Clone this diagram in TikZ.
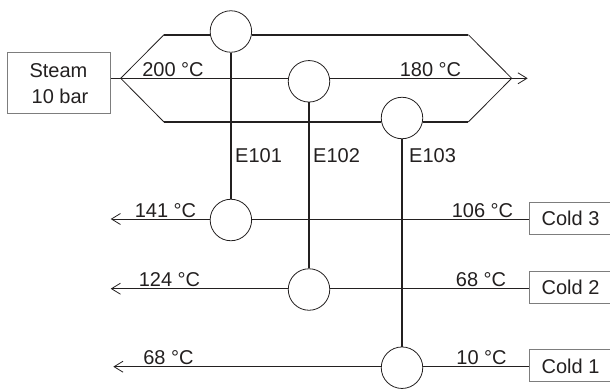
\documentclass[tikz,border=0pt]{standalone}
\usepackage{fontspec}
\setmainfont{Liberation Sans}
\usetikzlibrary{arrows.meta}
\definecolor{tc}{RGB}{35, 32, 32}
\definecolor{bc}{RGB}{125, 125, 125}
\tikzset{
  exch/.style={circle, minimum size=41.5pt, inner sep=0pt, line width=0.8pt, draw=tc},
  unit/.style={rectangle, inner sep=0pt, line width=0.9pt, draw=bc},
  hx/.style={line width=0.8pt, color=tc},
  link/.style={line width=1.9pt, color=tc},
  flow/.style={line width=0.8pt, color=tc, -{Straight Barb[length=9pt,width=11pt,line width=0.8pt]}},
  lab/.style={anchor=base, inner sep=0pt, text=tc, font=\fontsize{20pt}{24pt}\selectfont}
}

\begin{document}
\begin{tikzpicture}
\useasboundingbox (0pt, 0pt) rectangle (610pt, -388pt);
% units
\node (steam) [unit, minimum width=102.6pt, minimum height=61pt] at (59.0pt, -82.5pt) {};
\node (cold3) [unit, minimum width=90pt, minimum height=32.3pt] at (574.0pt, -218.2pt) {};
\node (cold2) [unit, minimum width=90pt, minimum height=32.3pt] at (574.0pt, -287.2pt) {};
\node (cold1) [unit, minimum width=90pt, minimum height=32.3pt] at (574.0pt, -365.2pt) {};
% exchangers
\node (e1a) [exch] at (230.9pt, -31.5pt) {};
\node (e2a) [exch] at (309.0pt, -81.3pt) {};
\node (e3a) [exch] at (402.0pt, -118.0pt) {};
\node (e1b) [exch] at (230.9pt, -220.0pt) {};
\node (e2b) [exch] at (309.0pt, -289.5pt) {};
\node (e3b) [exch] at (402.0pt, -367.7pt) {};
% hot side
\coordinate (split) at (120.7pt, -78.3pt);
\coordinate (merge) at (511.7pt, -78.3pt);
\coordinate (hotout) at (527.7pt, -78.3pt);
\coordinate (ul) at (164.0pt, -34.7pt);
\coordinate (ur) at (468.3pt, -34.7pt);
\coordinate (ll) at (164.0pt, -122.0pt);
\coordinate (lr) at (468.3pt, -122.0pt);
\draw [hx] (split -| steam.east) to (split);
\draw [hx] (split) to (split -| e2a.west);
\draw [hx] (split) to (ul);
\draw [hx] (split) to (ll);
\draw [link] (ul) to (ul -| e1a.west);
\draw [link] (ul -| e1a.east) to (ur);
\draw [link] (ll) to (ll -| e3a.west);
\draw [link] (ll -| e3a.east) to (lr);
\draw [hx] (ur) to (merge);
\draw [hx] (lr) to (merge);
\draw [hx] (merge -| e2a.east) to (merge);
\draw [flow] (merge) to (hotout);
% cold side
\coordinate (out3) at (110.7pt, -219.0pt);
\coordinate (out2) at (110.7pt, -288.7pt);
\coordinate (out1) at (113.3pt, -366.7pt);
\draw [hx] (out3 -| e1b.east) to (out3 -| cold3.west);
\draw [hx] (out2 -| e2b.east) to (out2 -| cold2.west);
\draw [hx] (out1 -| e3b.east) to (out1 -| cold1.west);
\draw [flow] (out3 -| e1b.west) to (out3);
\draw [flow] (out2 -| e2b.west) to (out2);
\draw [flow] (out1 -| e3b.west) to (out1);
% links
\draw [link] (e1a) to (e1b);
\draw [link] (e2a) to (e2b);
\draw [link] (e3a) to (e3b);
% labels
\node (tsteam) [lab] at (58.5pt, -77.7pt) {Steam};
\node (psteam) [lab] at (60.0pt, -103.0pt) {10 bar};
\node (lcold3) [lab] at (570.5pt, -225.0pt) {Cold 3};
\node (lcold2) [lab] at (570.5pt, -294.7pt) {Cold 2};
\node (lcold1) [lab] at (570.5pt, -373.0pt) {Cold 1};
\node (n1) [lab, anchor=base west] at (235.0pt, -162.7pt) {E101};
\node (n2) [lab, anchor=base west] at (313.0pt, -162.7pt) {E102};
\node (n3) [lab, anchor=base west] at (409.0pt, -162.7pt) {E103};
\node (t1) [lab] at (173.0pt, -76.0pt) {200 °C};
\node (t2) [lab] at (430.5pt, -76.0pt) {180 °C};
\node (t3) [lab] at (165.5pt, -217.3pt) {141 °C};
\node (t4) [lab] at (169.5pt, -286.0pt) {124 °C};
\node (t5) [lab] at (168.5pt, -364.3pt) {68 °C};
\node (t6) [lab] at (482.5pt, -217.3pt) {106 °C};
\node (t7) [lab] at (481.0pt, -286.0pt) {68 °C};
\node (t8) [lab] at (481.5pt, -364.3pt) {10 °C};
\end{tikzpicture}
\end{document}
